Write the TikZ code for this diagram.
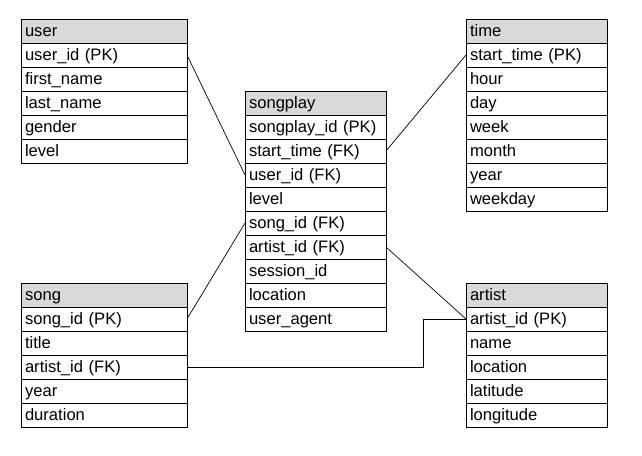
\documentclass[tikz,border=0pt]{standalone}
\usepackage{fontspec}
\setmainfont{Liberation Sans}
\usetikzlibrary{positioning}
\definecolor{HeadGray}{RGB}{217,217,217}

\tikzset{
  cell/.style={draw,line width=0.8pt,anchor=north west,outer sep=0pt,
    inner sep=4pt,minimum height=24pt,text height=13pt,text depth=3pt,
    align=left,font=\fontsize{16.6}{18}\selectfont},
  head/.style={cell,fill=HeadGray},
  wide/.style={text width=158pt},
  narrow/.style={text width=133pt},
  link/.style={line width=0.7pt}
}

\begin{document}
\begin{tikzpicture}[x=1pt,y=-1pt]
  \useasboundingbox (0,0) rectangle (642,455);
  % user table
  \node[head,wide] (user) at (21,19) {user};
  \foreach \f [count=\i] in {user\_id (PK),first\_name,last\_name,gender,level}
    \node[cell,wide] (user\i) at (21,{19+24*\i}) {\f};
  % time table
  \node[head,narrow] (time) at (466,19) {time};
  \foreach \f [count=\i] in {start\_time (PK),hour,day,week,month,year,weekday}
    \node[cell,narrow] (time\i) at (466,{19+24*\i}) {\f};
  % songplay table
  \node[head,narrow] (songplay) at (245,91) {songplay};
  \foreach \f [count=\i] in {songplay\_id (PK),start\_time (FK),user\_id (FK),
      level,song\_id (FK),artist\_id (FK),session\_id,location,user\_agent}
    \node[cell,narrow] (songplay\i) at (245,{91+24*\i}) {\f};
  % song table
  \node[head,wide] (song) at (21,283) {song};
  \foreach \f [count=\i] in {song\_id (PK),title,artist\_id (FK),year,duration}
    \node[cell,wide] (song\i) at (21,{283+24*\i}) {\f};
  % artist table
  \node[head,narrow] (artist) at (466,283) {artist};
  \foreach \f [count=\i] in {artist\_id (PK),name,location,latitude,longitude}
    \node[cell,narrow] (artist\i) at (466,{283+24*\i}) {\f};

  % relations
  \draw[link] (user1.east) -- (songplay3.west);
  \draw[link] (time1.west) -- (songplay2.east);
  \draw[link] (song1.east) -- (songplay5.west);
  \draw[link] (songplay6.east) -- (artist1.west);
  \coordinate (bend) at ([xshift=-43pt]artist1.west);
  \draw[link] (song3.east) -| (bend) -- (artist1.west);
\end{tikzpicture}
\end{document}
